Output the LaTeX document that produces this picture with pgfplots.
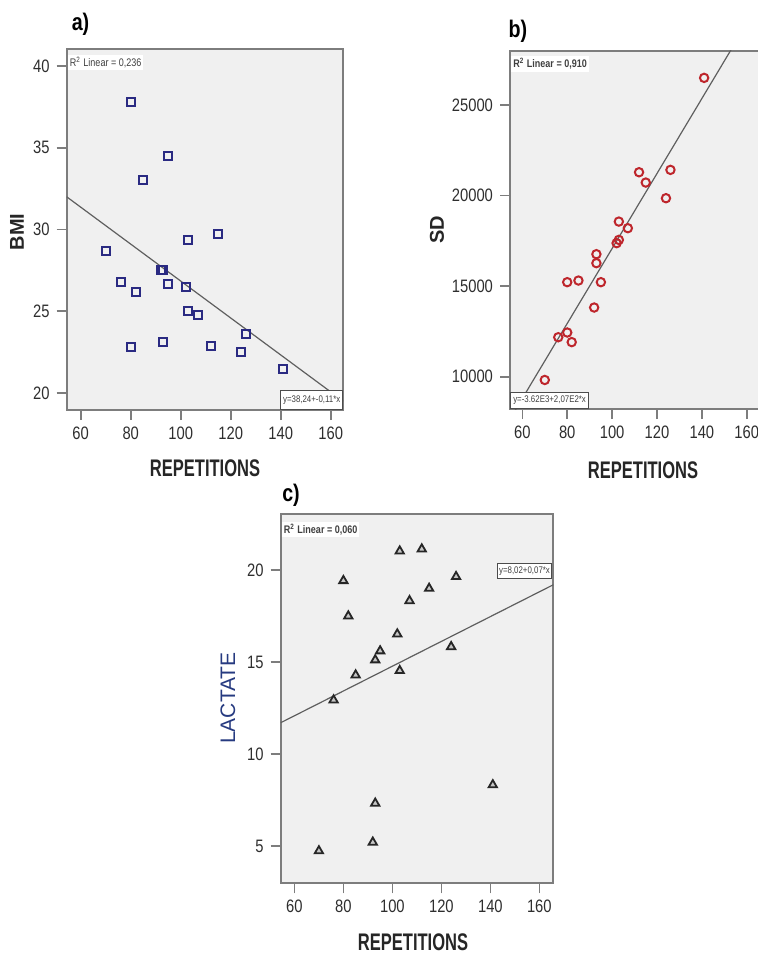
\documentclass[border=0pt]{standalone}
\usepackage{pgfplots}
\pgfplotsset{compat=1.18}
\usepackage{graphicx}
\usepackage{fontspec}
\setmainfont{Liberation Sans}
\newfontfamily\narrow[FakeStretch=0.82]{Liberation Sans}

\definecolor{bgpanel}{RGB}{240,240,240}
\definecolor{framegray}{RGB}{125,125,125}
\definecolor{sqnavy}{RGB}{42,42,130}
\definecolor{dotred}{RGB}{190,38,44}
\definecolor{fitgray}{RGB}{95,95,95}
\definecolor{labblue}{RGB}{38,58,128}

\pgfplotsset{
  spss/.style={
    scale only axis, anchor=south west,
    axis background/.style={fill=bgpanel},
    axis line style={framegray, line width=1pt},
    tick align=outside, xtick pos=left, ytick pos=left,
    major tick length=5pt,
    every tick/.style={framegray, line width=0.8pt},
    tick label style={font=\narrow\fontsize{9}{10}\selectfont, text=black!82},
    /pgf/number format/assume math mode=true,
    /pgf/number format/1000 sep={},
    scaled y ticks=false,
    xtick={60,80,...,160},
  },
}
\tikzset{
  rsq/.style={fill=white, inner sep=1pt, anchor=north west, text=black!75,
    font=\narrow\fontsize{5.5}{6}\selectfont},
  eqbox/.style={fill=white, draw=black!70, line width=0.6pt, inner sep=1pt,
    text=black!75, font=\narrow\fontsize{4.8}{5}\selectfont},
  fit/.style={fitgray, line width=0.6pt},
}

\begin{document}
\begin{tikzpicture}
\useasboundingbox (0,0) rectangle (378.5pt,-477pt);

% a) BMI
\begin{axis}[spss, at={(33.35pt,-205pt)}, width=138.3pt, height=180.5pt,
  xmin=54.4, xmax=165.0, ymin=18.96, ymax=41.04, ytick={20,25,...,40}]
\addplot[fit] coordinates {(54.4,32.0) (165,19.5)};
\addplot[only marks, mark=square, mark size=2pt,
  mark options={draw=sqnavy, line width=1pt, fill=none}] table {
x y
80 37.8
95 34.5
85 33.0
70 28.7
103 29.35
115 29.7
76 26.8
82 26.2
92 27.5
93 27.5
95 26.65
102 26.5
103 25.0
107 24.8
80 22.8
93 23.1
112 22.9
124 22.5
126 23.6
141 21.45
};
\node[rsq] at (rel axis cs:0.003,0.985) {R\textsuperscript{2} Linear = 0,236};
\node[eqbox, anchor=south east, minimum width=31pt, minimum height=9.5pt]
  at (rel axis cs:1,0) {y=38,24+-0,11*x};
\end{axis}

% b) SD
\begin{axis}[spss, at={(255pt,-204.5pt)}, width=125pt, height=179.15pt,
  xmin=54.5, xmax=165.9, ymin=8217, ymax=28000,
  ytick={10000,15000,20000,25000}]
\addplot[fit] coordinates {(50,6730) (160,29500)};
\addplot[only marks, mark=o, mark size=2.1pt,
  mark options={draw=dotred, line width=1pt}] table {
x y
141 26500
112 21290
115 20720
126 21420
124 19856
103 18565
107 18200
103 17555
102 17373
93 16765
93 16270
80 15220
85 15310
95 15220
92 13820
76 12180
80 12440
82 11910
70 9820
};
\node[rsq, font=\narrow\bfseries\fontsize{5.5}{6}\selectfont]
  at (rel axis cs:0.004,0.985) {R\textsuperscript{2} Linear = 0,910};
\node[eqbox, anchor=south west, minimum width=39pt, minimum height=8pt]
  at (rel axis cs:0,0) {y=-3.62E3+2,07E2*x};
\end{axis}

% c) LACTATE
\begin{axis}[spss, at={(140.35pt,-441.65pt)}, width=136.3pt, height=184.5pt,
  xmin=54.4, xmax=165.7, ymin=2.97, ymax=23.03, ytick={5,10,...,20}]
\addplot[fit] coordinates {(54.4,11.7) (165.7,19.2)};
\addplot[only marks, mark=triangle*, mark size=2.4pt,
  mark options={draw=black!85, fill=gray!45, line width=0.9pt}] table {
x y
103 21.03
112 21.14
80 19.42
126 19.64
115 19.0
107 18.33
82 17.5
102 16.52
124 15.83
95 15.6
93 15.11
103 14.53
85 14.29
76 12.93
141 8.32
93 7.32
92 5.2
70 4.73
};
\node[rsq, font=\narrow\bfseries\fontsize{5.5}{6}\selectfont]
  at (rel axis cs:0.003,0.98) {R\textsuperscript{2} Linear = 0,060};
\node[eqbox, anchor=north east, minimum width=27.3pt, minimum height=7.8pt]
  at (rel axis cs:0.997,0.869) {y=8,02+0,07*x};
\end{axis}

% panel letters and axis titles
\node[font=\narrow\bfseries\fontsize{12}{13}\selectfont] at (40.25pt,-12pt) {a)};
\node[font=\narrow\bfseries\fontsize{12}{13}\selectfont] at (259pt,-15.5pt) {b)};
\node[font=\narrow\bfseries\fontsize{12}{13}\selectfont] at (145.5pt,-247.5pt) {c)};
\node[rotate=90, font=\bfseries\fontsize{10}{11}\selectfont, text=black!85] at (8.5pt,-116pt) {BMI};
\node[rotate=90, font=\bfseries\fontsize{10}{11}\selectfont, text=black!85] at (218.5pt,-115pt) {SD};
\node[rotate=90, font=\fontsize{10.5}{11}\selectfont, text=labblue] at (114pt,-349pt) {LACTATE};
\node[font=\narrow\bfseries\fontsize{12}{13}\selectfont, text=black!85] at (102.5pt,-234pt) {\scalebox{0.84}[1]{REPETITIONS}};
\node[font=\narrow\bfseries\fontsize{12}{13}\selectfont, text=black!85] at (321.5pt,-235pt) {\scalebox{0.84}[1]{REPETITIONS}};
\node[font=\narrow\bfseries\fontsize{12}{13}\selectfont, text=black!85] at (206.5pt,-471pt) {\scalebox{0.84}[1]{REPETITIONS}};
\end{tikzpicture}
\end{document}
